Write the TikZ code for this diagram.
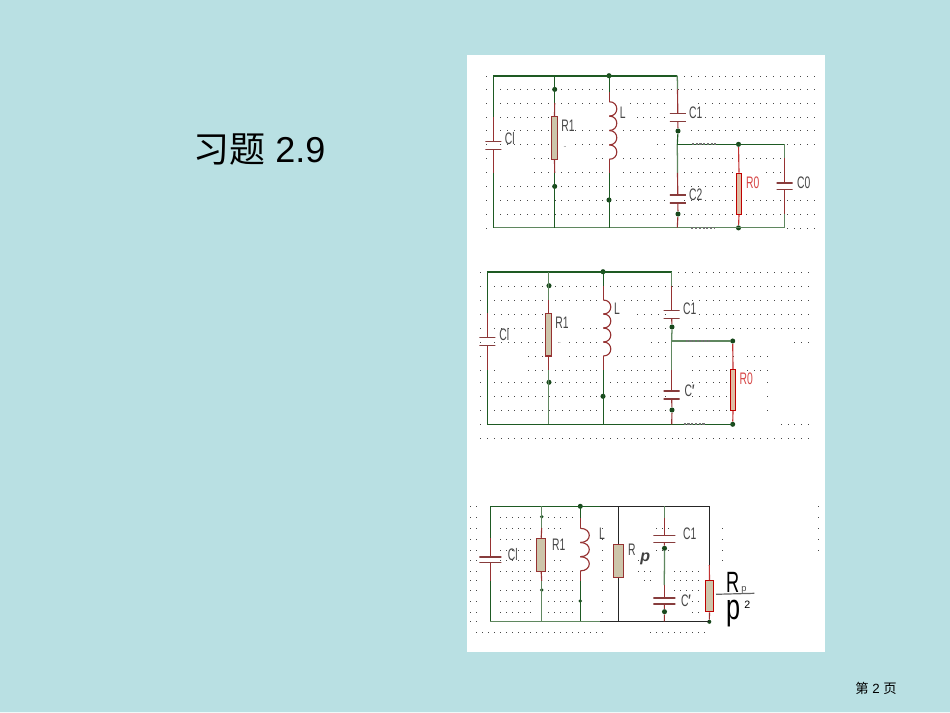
\documentclass[tikz,border=0pt]{standalone}
\usepackage{fontspec}
\setmainfont{Liberation Sans}
\newfontfamily\cjkfont{Noto Sans CJK SC}
\definecolor{slidebg}{RGB}{185,224,227}
\definecolor{wiregreen}{RGB}{30,90,35}
\definecolor{wiresoft}{RGB}{95,135,95}
\definecolor{leadred}{RGB}{150,50,50}
\definecolor{platered}{RGB}{135,60,60}
\definecolor{bodytan}{RGB}{205,197,170}
\definecolor{bodyred}{RGB}{222,190,165}
\definecolor{labelgray}{RGB}{70,70,70}
\definecolor{labelred}{RGB}{215,70,70}
\definecolor{griddotc}{RGB}{70,70,70}
\tikzset{
  wire/.style={draw=wiregreen,line width=0.85pt},
  softwire/.style={draw=wiresoft,line width=0.95pt},
  topwire/.style={draw=wiregreen,line width=1.6pt},
  blackwire/.style={draw=black!85,line width=0.85pt},
  lead/.style={draw=leadred,line width=0.85pt},
  redlead/.style={draw=red!70!black!80,line width=0.85pt},
  coilline/.style={draw=leadred,line width=0.85pt,line join=round},
  junction/.style={circle,fill=wiregreen!80!black,inner sep=0pt,minimum size=3.8pt},
  platebar/.style={rectangle,inner sep=0pt,minimum height=0pt,minimum width=12pt,outer sep=0pt,draw=platered,line width=0.85pt},
  wideplate/.style={platebar,minimum width=16.5pt},
  resbody/.style={rectangle,draw=leadred,fill=bodytan,line width=0.85pt,inner sep=0pt},
  hotbody/.style={rectangle,draw=red!75!black,fill=bodyred,line width=0.85pt,inner sep=0pt},
  lbl/.style={text=labelgray,font=\fontsize{12.5}{13}\selectfont,xscale=0.62,inner sep=0pt},
  hotlbl/.style={lbl,text=labelred},
  hand/.style={text=black,inner sep=0pt},
  griddot/.style={fill=griddotc},
  fuzz/.style={draw=black!55,line width=1.4pt,dash pattern=on 1.6pt off 1.2pt},
}
\newcommand{\dotrow}[2]{%
  \foreach \ra/\rb in {#2}{%
    \foreach \kk in {\ra,...,\rb}{%
      \fill[griddot] ({round(\gxo+\gstep*\kk)},{round(#1)}) rectangle +(1,1);}}}
\newcommand{\coilpath}[5]{% x, y top, bump height, bump width, bumps
  \foreach \bb in {1,...,#5}{%
    \pgfmathsetmacro{\ya}{#2+(\bb-1)*#3}
    \pgfmathsetmacro{\yb}{#2+\bb*#3}
    \pgfmathsetmacro{\xc}{#1+#4*1.33}
    \draw[coilline] (#1,\ya) .. controls (\xc,\ya) and (\xc,\yb) .. (#1,\yb);}}
\begin{document}
\begin{tikzpicture}[x=0.75pt,y=-0.75pt]
\useasboundingbox (0,0) rectangle (950,713);
\fill[slidebg] (0,0) rectangle (950,713);
\fill[white!80!slidebg] (0,712) rectangle (950,713);
\fill[white] (467,55) rectangle (825,652);

% ---- slide texts
\node[anchor=base west,inner sep=0pt,font=\fontsize{27}{30}\selectfont] (title) at (193,162.5) {{\cjkfont 习题} 2.9};
\node[anchor=base west,inner sep=0pt,font=\fontsize{10}{12}\selectfont] (page) at (855,693.5) {{\cjkfont 第} 2 {\cjkfont 页}};

% ---- grid circuit 1
\def\gxo{486.3}\def\gstep{6.83}
\dotrow{75.7}{0/0,29/48}
\dotrow{89.4}{0/0,2/48}
\dotrow{103}{0/0,2/9,11/17,21/26,31/48}
\dotrow{116.7}{0/0,2/9,22/26,31/48}
\dotrow{130.4}{0/0,2/9,13/17,20/26,30/48}
\dotrow{144.3}{0/0,2/9,13/17,25/26,44/48}
\dotrow{158}{0/0,7/9,16/17,20/26,29/36,38/43}
\dotrow{172}{0/0,7/9,11/17,20/26,29/36,41/43}
\dotrow{186}{0/0,2/26,29/36}
\dotrow{200}{0/0,2/26,29/36,38/48}
\dotrow{214}{0/0,2/26,29/36,38/48}
\dotrow{227.7}{0/0,44/48}

% ---- grid circuit 2
\def\gxo{480.3}\def\gstep{6.83}
\dotrow{271.7}{0/0,29/48}
\dotrow{285.7}{0/0,2/48}
\dotrow{299.7}{0/0,2/9,11/17,21/26,31/48}
\dotrow{313.7}{0/0,2/9,23/27,32/48}
\dotrow{327.7}{0/0,2/9,15/17,21/27,31/48}
\dotrow{341.7}{0/0,2/9,13/17,25/27,46/48}
\dotrow{355.7}{0/0,7/9,13/17,20/27,31/37,39/42}
\dotrow{369.7}{0/0,2/2,7/9,11/17,20/27,31/37,39/42}
\dotrow{382.3}{0/0,2/27,31/37,42/42}
\dotrow{396.3}{0/0,2/27,31/37,42/42}
\dotrow{410.3}{0/0,2/27,31/37,42/42}
\dotrow{424.3}{0/0,44/48}
\dotrow{438.3}{0/48}

% ---- grid circuit 3
\def\gxo{469.7}\def\gstep{6}
\dotrow{506.3}{0/1,58/58}
\dotrow{517.3}{0/1,5/10,13/17,58/58}
\dotrow{528.3}{0/1,5/10,13/15,22/22,31/33,42/42,58/58}
\dotrow{539.3}{0/1,5/10,22/22,42/42,58/58}
\dotrow{550}{0/1,5/10,22/22,31/33,42/42,58/58}
\dotrow{560}{0/1,5/10,14/15,22/22,28/29,42/42}
\dotrow{570.7}{0/1,5/10,13/17,22/22,28/30,34/38}
\dotrow{580}{0/1,7/10,13/17,22/22,29/30,34/38}
\dotrow{590}{0/1,5/10,13/17,22/22,34/38}
\dotrow{601}{0/1,5/10,13/17,22/22,37/38}
\dotrow{611.7}{0/1,5/10,13/17,22/22,37/38}
\dotrow{621.3}{0/1}
\dotrow{632}{1/22,30/39}

% ================ circuit 1
\coordinate (atl) at (493.3,75.7); \coordinate (atr) at (677.3,75.7);
\coordinate (abl) at (493.3,227.7); \coordinate (abr) at (784.7,227.7);
\coordinate (abc) at (677.3,227.7);
\node[junction] (ajr1t) at (554.7,89.4) {};
\node[junction] (ajr1b) at (554.7,186.4) {};
\node[junction] (ajlt) at (609,75.7) {};
\node[junction] (ajlb) at (609,200) {};
\node[junction] (ajc1) at (678,131) {};
\node[junction] (ajc2) at (678,214) {};
\node[junction] (ajrt) at (738.5,144.3) {};
\node[junction] (ajrb) at (738.5,227.9) {};
\coordinate (ar1top) at (554.7,75.7); \coordinate (ar1bot) at (554.7,227.7);
\coordinate (altop) at (609.3,75.7); \coordinate (albot) at (609.3,227.7);
\coordinate (abr1) at (677.3,144.3); \coordinate (abr2) at (784.7,144.3);
\node[resbody,minimum width=4.8pt,minimum height=32pt] (ar1) at (554.5,138) {};
\node[hotbody,minimum width=4.2pt,minimum height=30.8pt] (ar0) at (739,193.8) {};
\node[platebar] (aclp) at (493.3,141.3) {};
\node[platebar] (aclq) at (493.3,149.3) {};
\node[platebar] (ac1p) at (677.8,113.7) {};
\node[platebar] (ac1q) at (677.8,121.7) {};
\node[platebar] (ac2p) at (677.8,195) {};
\node[platebar] (ac2q) at (677.8,203) {};
\node[platebar,line width=1.3pt] (ac0p) at (784.7,182.7) {};
\node[platebar] (ac0q) at (784.7,189.3) {};
\coordinate (acla) at (493.3,116.7); \coordinate (aclb) at (493.3,173.3);
\coordinate (ac1a) at (677.5,89.4);
\coordinate (ac2a) at (677.5,173); 
\coordinate (ac0a) at (784.7,158); \coordinate (ac0b) at (784.7,214);
\coordinate (ala) at (609.3,92); \coordinate (alb) at (609.3,173.3);
\coordinate (alc) at (609.3,101.7); \coordinate (ald) at (609.3,159.3);
\coordinate (ar1a) at (554.7,103); \coordinate (ar1b) at (554.7,173);
\draw[topwire] (atl) -- (atr);
\draw[softwire] (abl) -- (abr);
\draw[wire] (atl) -- (acla); \draw[wire] (aclb) -- (abl);
\draw[lead] (acla) -- (aclp.center) (aclq.center) -- (aclb);
\draw[wire] (ar1top) -- (ar1a); \draw[lead] (ar1a) -- (ar1.north) (ar1.south) -- (ar1b); \draw[wire] (ar1b) -- (ar1bot);
\draw[wire] (altop) -- (ala); \draw[lead] (ala) -- (alc) (ald) -- (alb); \draw[wire] (alb) -- (albot);
\coilpath{609.3}{101.7}{14.4}{7.5}{4}
\draw[softwire] (atr) -- (ac1a); \draw[lead] (ac1a) -- (ac1p.center);
\draw[lead] (ac1q.center) -- (ajc1); \draw[wire] (ajc1) -- (abr1);
\draw[softwire] (abr1) -- (ac2a); \draw[lead] (ac2a) -- (ac2p.center);
\draw[lead] (ac2q.center) -- (ajc2); \draw[lead] (ajc2) -- (abc);
\draw[wire] (abr1) -- (abr2);
\draw[softwire] (abr2) -- (ac0a); \draw[lead] (ac0a) -- (ac0p.center) (ac0q.center) -- (ac0b); \draw[softwire] (ac0b) -- (abr);
\draw[redlead] (ajrt) -- (ar0.north) (ar0.south) -- (ajrb);
\draw[fuzz] (ajc1 |- ajrt) ++(14,0) -- ++(24,0);
\draw[fuzz] (abc) ++(14,0) -- ++(24,0);
\node[lbl,anchor=center] (aClabel) at (509.7,139) {Cl};
\node[lbl] (aR1label) at (568,126) {R1};
\node[lbl,font=\fontsize{6}{7}\selectfont] (aqq) at (565,147) {..};
\node[lbl] (aLlabel) at (622.7,112.3) {L};
\node[lbl] (aC1label) at (695.7,112.3) {C1};
\node[lbl] (aC2label) at (695.7,194.3) {C2};
\node[hotlbl] (aR0label) at (752.7,182.3) {R0};
\node[lbl] (aC0label) at (803.7,182.3) {C0};

% ================ circuit 2
\coordinate (btl) at (487.3,271.7); \coordinate (btr) at (671.7,271.7);
\coordinate (bbl) at (487.3,424.3); \coordinate (bbr) at (732.7,424.3);
\coordinate (bbc) at (671.7,424.3);
\node[junction] (bjr1t) at (549,285.7) {};
\node[junction] (bjr1b) at (549,382.3) {};
\node[junction] (bjlt) at (603,271.7) {};
\node[junction] (bjlb) at (603,396.3) {};
\node[junction] (bjc1) at (672,327) {};
\node[junction] (bjc2) at (672,410) {};
\node[junction] (bjrt) at (732.7,341) {};
\node[junction] (bjrb) at (732.7,424.3) {};
\coordinate (br1top) at (548.7,271.7); \coordinate (br1bot) at (548.7,424.3);
\coordinate (bltop) at (603.3,271.7); \coordinate (blbot) at (603.3,424.3);
\coordinate (bbr1) at (671.7,341);
\node[resbody,minimum width=4.6pt,minimum height=32pt] (br1) at (548.7,334.7) {};
\node[hotbody,minimum width=4.2pt,minimum height=31pt] (br0) at (733,390) {};
\node[platebar] (bclp) at (487.3,337.7) {};
\node[platebar] (bclq) at (487.3,345.7) {};
\node[platebar] (bc1p) at (671.7,310.3) {};
\node[platebar] (bc1q) at (671.7,318.3) {};
\node[platebar] (bc2p) at (671.7,391) {};
\node[platebar] (bc2q) at (671.7,399) {};
\coordinate (bcla) at (487.3,313.3); \coordinate (bclb) at (487.3,370);
\coordinate (bc1a) at (671.7,285.7);
\coordinate (bc2a) at (671.7,369.7);
\coordinate (bla) at (603.3,286); \coordinate (blb) at (603.3,370);
\coordinate (blc) at (603.3,300); \coordinate (bld) at (603.3,356);
\coordinate (br1a) at (548.7,299.7); \coordinate (br1b) at (548.7,370);
\draw[topwire] (btl) -- (btr);
\draw[wire] (bbl) -- (bbr);
\draw[wire] (btl) -- (bcla); \draw[wire] (bclb) -- (bbl);
\draw[lead] (bcla) -- (bclp.center) (bclq.center) -- (bclb);
\draw[softwire] (br1top) -- (br1a); \draw[lead] (br1a) -- (br1.north) (br1.south) -- (br1b); \draw[softwire] (br1b) -- (br1bot);
\draw[wire] (bltop) -- (bla); \draw[lead] (bla) -- (blc) (bld) -- (blb); \draw[wire] (blb) -- (blbot);
\coilpath{603.3}{300}{14}{7.5}{4}
\draw[softwire] (btr) -- (bc1a); \draw[lead] (bc1a) -- (bc1p.center);
\draw[lead] (bc1q.center) -- (bjc1); \draw[softwire] (bjc1) -- (bbr1);
\draw[softwire] (bbr1) -- (bc2a); \draw[lead] (bc2a) -- (bc2p.center);
\draw[lead] (bc2q.center) -- (bjc2); \draw[lead] (bjc2) -- (bbc);
\draw[softwire] (bbr1) -- (bjrt);
\draw[redlead] (bjrt) -- (br0.north) (br0.south) -- (bjrb);
\draw[fuzz] (bbr1) ++(14,0) -- ++(24,0);
\draw[fuzz] (bbc) ++(12,0) -- ++(22,0);
\node[lbl] (bClabel) at (504.3,335) {Cl};
\node[lbl] (bR1label) at (562,322.3) {R1};
\node[lbl,font=\fontsize{6}{7}\selectfont] (bqq) at (559.3,343.5) {..};
\node[lbl] (bLlabel) at (617,308.3) {L};
\node[lbl] (bC1label) at (689.7,308.3) {C1};
\node[lbl] (bCplabel) at (689.7,391) {C{\bfseries ′}};
\node[hotlbl] (bR0label) at (746.3,378.3) {R0};

% ================ circuit 3
\coordinate (ctl) at (490.3,506.3); \coordinate (ctr) at (709.3,506.3);
\coordinate (cbl) at (490.3,621.3); \coordinate (cbr) at (709.3,621.3);
\coordinate (cmt) at (600,506.3); \coordinate (cmb) at (600,621.3);
\node[junction,minimum size=2.8pt] (cjr1t) at (541.7,516.7) {};
\node[junction,minimum size=2.8pt] (cjr1b) at (541.7,590) {};
\node[junction] (cjlt) at (580.3,506.3) {};
\node[junction,minimum size=2.8pt] (cjlb) at (580.3,601) {};
\node[junction] (cjc1) at (664.5,548.3) {};
\node[junction] (cjc2) at (664.5,611.7) {};
\node[junction,minimum size=3pt] (cjrb) at (709.3,621.8) {};
\coordinate (cr1top) at (541.7,506.3); \coordinate (cr1bot) at (541.7,621.3);
\coordinate (cltop) at (580.3,506.3); \coordinate (clbot) at (580.3,621.3);
\coordinate (crptop) at (618.3,506.3); \coordinate (crpbot) at (618.3,621.3);
\coordinate (cctop) at (664.3,506.3); \coordinate (ccbot) at (664.3,621.3);
\node[resbody,minimum width=6.75pt,minimum height=24.75pt] (cr1) at (541.2,554.8) {};
\node[resbody,minimum width=7.5pt,minimum height=24.75pt] (crp) at (618.3,560.8) {};
\node[hotbody,fill=bodytan,minimum width=6.3pt,minimum height=23.25pt] (cr2) at (709.5,596.2) {};
\node[wideplate] (cclp) at (490.3,557) {};
\node[wideplate] (cclq) at (490.3,562.5) {};
\node[wideplate] (cc1p) at (664.3,535.7) {};
\node[wideplate] (cc1q) at (664.3,542.3) {};
\node[wideplate] (cc2p) at (664.3,598) {};
\node[wideplate] (cc2q) at (664.3,604) {};
\coordinate (ccla) at (490.3,538); \coordinate (cclb) at (490.3,581);
\coordinate (cla) at (580.3,518); \coordinate (clb) at (580.3,581);
\coordinate (clc) at (580.3,528.3); \coordinate (cld) at (580.3,571);
\coordinate (cr1a) at (541.7,528); \coordinate (cr1b) at (541.7,581);
\coordinate (cc1a) at (664.3,518); \coordinate (cc2a) at (664.3,585);
\coordinate (cr2a) at (709.3,565);
\draw[wire] (ctl) -- (cmt); \draw[blackwire] (cmt) -- (ctr);
\draw[softwire] (cbl) -- (cmb); \draw[blackwire] (cmb) -- (cbr);
\draw[wire] (ctl) -- (ccla); \draw[wire] (cclb) -- (cbl);
\draw[lead] (ccla) -- (cclp.center) (cclq.center) -- (cclb);
\draw[softwire] (cr1top) -- (cr1a); \draw[lead] (cr1a) -- (cr1.north) (cr1.south) -- (cr1b); \draw[softwire] (cr1b) -- (cr1bot);
\draw[wire] (cltop) -- (cla); \draw[lead] (cla) -- (clc) (cld) -- (clb); \draw[wire] (clb) -- (clbot);
\coilpath{580.3}{528.3}{14.2}{9}{3}
\draw[blackwire] (crptop) -- (crp.north) (crp.south) -- (crpbot);
\draw[softwire] (cctop) -- (cc1a); \draw[lead] (cc1a) -- (cc1p.center);
\draw[lead] (cc1q.center) -- (cjc1); \draw[softwire] (cjc1) -- (cc2a); \draw[lead] (cc2a) -- (cc2p.center);
\draw[lead] (cc2q.center) -- (cjc2); \draw[lead] (cjc2) -- (ccbot);
\draw[blackwire] (ctr) -- (cr2a);
\draw[redlead] (cr2a) -- (cr2.north);
\draw[lead] (cr2.south) -- (cjrb);
\node[lbl] (cClabel) at (512.7,555) {Cl};
\node[lbl] (cR1label) at (558.7,545) {R1};
\node[lbl] (cLlabel) at (602,534) {L};
\node[lbl,anchor=base west] (cRlabel) at (628,555.5) {R};
\node[anchor=base west,inner sep=0pt,font=\fontsize{12}{13}\selectfont\bfseries\itshape,text=black!75] (cplabel) at (640,561) {p};
\node[lbl] (cC1label) at (689.7,534) {C1};
\node[lbl] (cCplabel) at (686,601) {C{\bfseries ′}};

% handwritten R_p / p^2
\node[hand,anchor=base west,font=\fontsize{22}{24}\selectfont,xscale=0.62] (hR) at (726,592) {R};
\node[hand,anchor=base west,font=\fontsize{7}{8}\selectfont,text=black!70] (hRp) at (741,591) {p};
\coordinate (hbara) at (716,594.3); \coordinate (hbarb) at (754.3,593.3);
\draw[draw=black!60,line width=0.9pt] (hbara) -- (hbarb);
\node[hand,anchor=base west,font=\fontsize{27}{28}\selectfont,xscale=0.7] (hp) at (726,619) {p};
\node[hand,anchor=base west,font=\fontsize{8}{9}\selectfont] (h2) at (744,608) {2};
\end{tikzpicture}
\end{document}
